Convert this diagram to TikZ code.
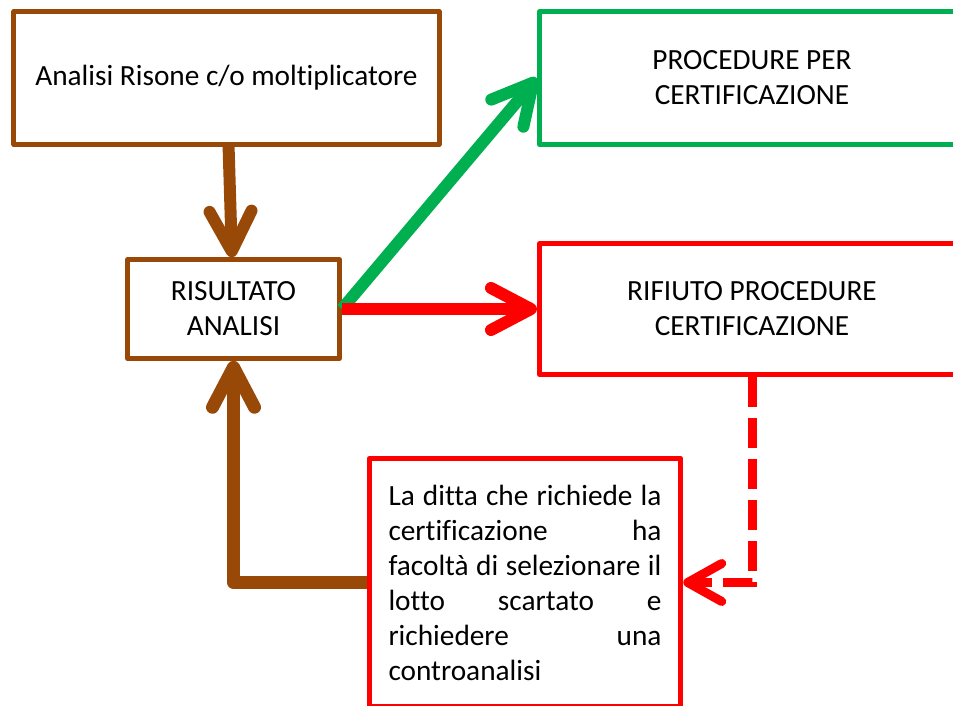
\documentclass[tikz,border=0pt]{standalone}
\usepackage{fontspec}
\setmainfont{Carlito}[Ligatures=NoCommon]
\usetikzlibrary{arrows.meta}
\definecolor{brn}{RGB}{152,72,7}
\definecolor{grn}{RGB}{0,176,80}
\definecolor{rd}{RGB}{255,0,0}
\tikzset{
  box/.style={draw, line width=5bp, fill=white, align=center, line join=round,
    inner sep=0pt, font=\fontsize{29.3bp}{35bp}\selectfont},
  bigarrow/.style={line width=12bp, line join=round,
    -{Straight Barb[length=40bp, width=42bp, round]}},
  smallarrow/.style={line width=9bp, dash pattern=on 30bp off 11bp,
    -{Straight Barb[length=34bp, width=38bp, round]}},
}
\newcommand{\jl}[1]{\makebox[273bp][s]{\spaceskip=0.22em plus 10em\relax #1}}
\begin{document}
\begin{tikzpicture}[x=1bp,y=-1bp]
\useasboundingbox (0,0) rectangle (953,706);
\node[box, draw=brn, minimum width=425bp, minimum height=133bp] (ana) at (226.5,78) {Analisi Risone c/o moltiplicatore};
\node[box, draw=brn, minimum width=212bp, minimum height=98.5bp] (res) at (233.5,309) {RISULTATO\\ANALISI};
\node[box, draw=grn, minimum width=425bp, minimum height=133bp] (proc) at (752,78) {PROCEDURE PER\\CERTIFICAZIONE};
\node[box, draw=rd, minimum width=425bp, minimum height=131bp] (rif) at (752,309) {RIFIUTO PROCEDURE\\CERTIFICAZIONE};
\node[box, draw=rd, minimum width=311.5bp, minimum height=248bp] (tb) at (525,582.5)
  {\raisebox{-2bp}{\parbox{273bp}{\jl{La ditta che richiede la}\\\jl{certificazione ha}\\\jl{facoltà di selezionare il}\\\jl{lotto scartato e}\\\jl{richiedere una}\\contro\-analisi}}};
\draw[bigarrow, brn] (ana) -- (res);
\draw[bigarrow, grn] (res.east) -- (proc.west);
\draw[bigarrow, rd] (res.east) -- (rif.west);
\draw[bigarrow, brn, line width=13bp] (tb.west) -| (res.south);
\draw[smallarrow, rd] (rif.south) |- (tb.east);
\end{tikzpicture}
\end{document}
